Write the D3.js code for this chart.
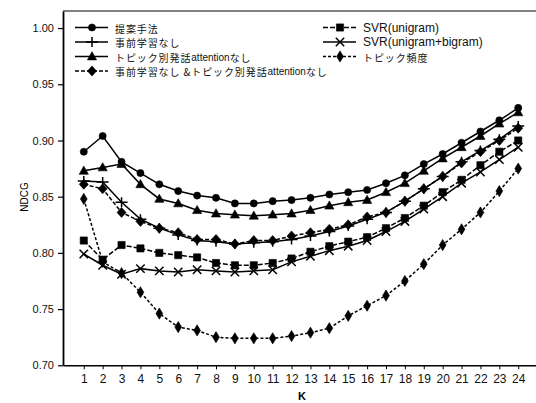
<!DOCTYPE html>
<html>
<head>
<meta charset="utf-8">
<script src="https://cdn.jsdelivr.net/npm/d3@7"></script>
<style>
  html, body { margin: 0; padding: 0; background: #fff; }
  svg { display: block; }
</style>
</head>
<body>
<script>
// ---- data ----
const kValues = d3.range(1, 25);
const yTickValues = [0.70, 0.75, 0.80, 0.85, 0.90, 0.95, 1.00];

const seriesNames = [
  "提案手法",
  "事前学習なし",
  "トピック別発話attentionなし",
  "事前学習なし &トピック別発話attentionなし",
  "SVR(unigram)",
  "SVR(unigram+bigram)",
  "トピック頻度"
];

const proposed      = [0.890, 0.904, 0.881, 0.871, 0.861, 0.855, 0.851, 0.849, 0.844, 0.844, 0.846, 0.847,
                       0.849, 0.852, 0.854, 0.856, 0.862, 0.869, 0.879, 0.888, 0.898, 0.908, 0.918, 0.929];
const noPretrain    = [0.864, 0.863, 0.845, 0.830, 0.822, 0.816, 0.811, 0.810, 0.808, 0.809, 0.810, 0.812,
                       0.815, 0.819, 0.824, 0.830, 0.836, 0.846, 0.857, 0.868, 0.881, 0.891, 0.901, 0.913];
const noTopicAttn   = [0.873, 0.876, 0.879, 0.861, 0.848, 0.844, 0.838, 0.835, 0.834, 0.833, 0.834, 0.835,
                       0.838, 0.842, 0.845, 0.847, 0.854, 0.862, 0.873, 0.884, 0.894, 0.904, 0.915, 0.925];
const noBoth        = [0.861, 0.857, 0.836, 0.828, 0.822, 0.818, 0.812, 0.812, 0.808, 0.811, 0.811, 0.815,
                       0.818, 0.821, 0.825, 0.832, 0.836, 0.846, 0.857, 0.868, 0.880, 0.890, 0.900, 0.911];
const svrUni        = [0.811, 0.794, 0.807, 0.804, 0.800, 0.798, 0.796, 0.791, 0.789, 0.789, 0.791, 0.795,
                       0.801, 0.806, 0.810, 0.814, 0.822, 0.831, 0.842, 0.854, 0.865, 0.878, 0.890, 0.900];
const svrUniBi      = [0.799, 0.789, 0.781, 0.786, 0.784, 0.783, 0.785, 0.784, 0.783, 0.784, 0.785, 0.792,
                       0.797, 0.802, 0.806, 0.811, 0.819, 0.828, 0.839, 0.850, 0.862, 0.872, 0.883, 0.894];
const topicFreq     = [0.848, 0.792, 0.782, 0.765, 0.746, 0.734, 0.731, 0.725, 0.724, 0.724, 0.724, 0.726,
                       0.729, 0.733, 0.744, 0.753, 0.762, 0.775, 0.790, 0.807, 0.821, 0.836, 0.855, 0.875];

const seriesValues = [proposed, noPretrain, noTopicAttn, noBoth, svrUni, svrUniBi, topicFreq];

// ---- styling ----
const markerPaths = {
  circle:   d3.symbol(d3.symbolCircle, 40)(),
  plus:     "M-6,0H6M0,-5V5",
  triangle: "M0,-4.8L4.6,3.4L-4.6,3.4Z",
  diamond:  "M0,-5L4.5,0L0,5L-4.5,0Z",
  square:   "M-3.6,-3.6H3.6V3.6H-3.6Z",
  cross:    "M-4.2,-4.2L4.2,4.2M-4.2,4.2L4.2,-4.2",
  slim:     "M0,-5.6L3.4,0L0,5.6L-3.4,0Z"
};
const styles = [
  { marker: "circle",   dash: null },
  { marker: "plus",     dash: null },
  { marker: "triangle", dash: null },
  { marker: "diamond",  dash: "4,2" },
  { marker: "square",   dash: "5,2" },
  { marker: "cross",    dash: null },
  { marker: "slim",     dash: "3,2" }
];
const strokeMarkers = new Set(["plus", "cross"]);

const W = 536, H = 403;
const plotLeft = 63, plotTop = 11, plotBottom = 365.3, plotRight = 536;
const numFont = "'Liberation Sans', Arial, sans-serif";
const jpFont = "'Noto Sans CJK JP', 'Liberation Sans', sans-serif";

const x = d3.scaleLinear().domain([-0.1, 25.1]).range([plotLeft, 539]);
const y = d3.scaleLinear().domain([0.70, 1.0152]).range([plotBottom, plotTop]);

const svg = d3.select("body").append("svg")
  .attr("width", W).attr("height", H)
  .attr("viewBox", `0 0 ${W} ${H}`);

svg.append("rect").attr("width", W).attr("height", H).attr("fill", "#fff");

// frame top
svg.append("line")
  .attr("x1", plotLeft).attr("x2", plotRight)
  .attr("y1", plotTop).attr("y2", plotTop)
  .attr("stroke", "#000").attr("stroke-width", 1);

// y axis
const yAxis = svg.append("g")
  .attr("transform", `translate(${plotLeft},0)`)
  .call(d3.axisLeft(y).tickValues(yTickValues).tickFormat(d3.format(".2f"))
        .tickSize(5).tickSizeOuter(0).tickPadding(4));
yAxis.select(".domain").attr("stroke-width", 1.8);
yAxis.selectAll(".tick line").attr("stroke-width", 1.2);
yAxis.selectAll("text").attr("font-family", numFont).attr("font-size", 11).attr("fill", "#111");

// x axis
const xAxis = svg.append("g")
  .attr("transform", `translate(0,${plotBottom})`)
  .call(d3.axisBottom(x).tickValues(kValues).tickFormat(d3.format("d"))
        .tickSize(4).tickSizeOuter(0).tickPadding(5));
xAxis.select(".domain").attr("stroke-width", 1.5);
xAxis.selectAll("text").attr("font-family", numFont).attr("font-size", 12).attr("fill", "#111");

// axis titles
svg.append("text")
  .attr("transform", `translate(25,197) rotate(-90)`)
  .attr("text-anchor", "middle").attr("dominant-baseline", "middle")
  .attr("font-family", numFont).attr("font-size", 10).text("NDCG");
svg.append("text")
  .attr("x", 302).attr("y", 400)
  .attr("text-anchor", "middle")
  .attr("font-family", numFont).attr("font-size", 11).attr("font-weight", 600).text("K");

// series
const line = d3.line().x((d, i) => x(kValues[i])).y(d => y(d));

const drawMarker = (sel, type) => {
  sel.attr("d", markerPaths[type])
    .attr("fill", strokeMarkers.has(type) ? "none" : "#000")
    .attr("stroke", "#000")
    .attr("stroke-width", strokeMarkers.has(type) ? 1.5 : 0.6);
};

const plot = svg.append("g");
seriesValues.forEach((vals, si) => {
  const st = styles[si];
  const g = plot.append("g");
  g.append("path").datum(vals)
    .attr("d", line)
    .attr("fill", "none").attr("stroke", "#000").attr("stroke-width", 1.5)
    .attr("stroke-dasharray", st.dash);
  g.selectAll("path.mk").data(vals).join("path")
    .attr("class", "mk")
    .attr("transform", (d, i) => `translate(${x(kValues[i])},${y(d)})`)
    .call(drawMarker, st.marker);
});

// legend
const legendCols = [[0, 1, 2, 3], [4, 5, 6]];
const colX = [75, 323];
const rowY = [27.5, 42, 56.5, 71];
const legend = svg.append("g");
legendCols.forEach((col, ci) => {
  col.forEach((si, ri) => {
    const st = styles[si];
    const lx = colX[ci], ly = rowY[ri];
    const g = legend.append("g").attr("transform", `translate(${lx},${ly})`);
    g.append("line").attr("x1", 0).attr("x2", 33).attr("y1", 0).attr("y2", 0)
      .attr("stroke", "#000").attr("stroke-width", 1.5).attr("stroke-dasharray", st.dash);
    g.append("path").attr("transform", "translate(17,0)").call(drawMarker, st.marker);
    const name = seriesNames[si];
    const isLatin = name.startsWith("SVR");
    const t = g.append("text").attr("x", 40).attr("y", 0)
      .attr("dominant-baseline", "central")
      .attr("font-family", isLatin ? numFont : jpFont)
      .attr("font-size", isLatin ? 12 : 10)
      .attr("letter-spacing", isLatin ? 0 : 0.9)
      .attr("fill", "#111");
    name.split(/(attention)/).filter(s => s.length).forEach(part => {
      const sp = t.append("tspan").text(part);
      if (part === "attention") sp.attr("font-family", numFont).attr("font-size", 10).attr("letter-spacing", 0);
    });
  });
});
</script>
</body>
</html>
